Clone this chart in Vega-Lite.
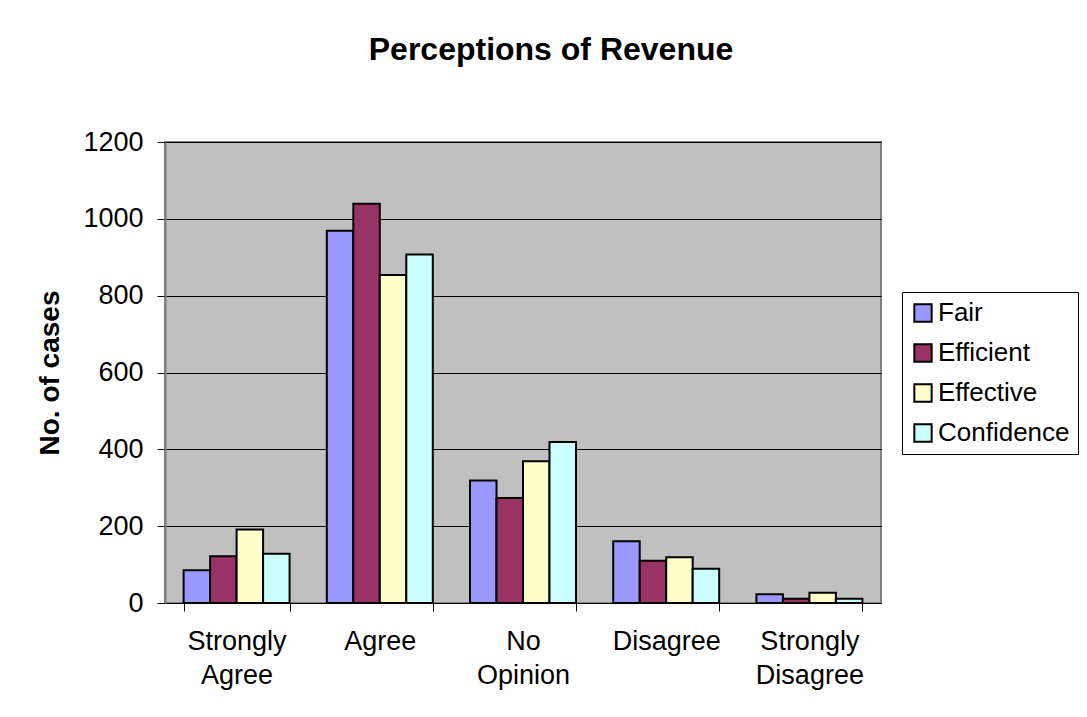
{
  "$schema": "https://vega.github.io/schema/vega-lite/v6.json",
  "width": 716,
  "height": 461,
  "autosize": {"type": "none"},
  "padding": {"left": 165, "top": 142, "right": 206, "bottom": 114},
  "background": "white",
  "title": {
    "text": "Perceptions of Revenue",
    "font": "Liberation Sans",
    "fontSize": 32,
    "fontWeight": "bold",
    "color": "black",
    "anchor": "middle",
    "baseline": "alphabetic",
    "offset": 36,
    "dx": 28
  },
  "data": {
    "values": [
      {"response": "Strongly Agree", "measure": "Fair", "cases": 85},
      {"response": "Strongly Agree", "measure": "Efficient", "cases": 122},
      {"response": "Strongly Agree", "measure": "Effective", "cases": 191},
      {"response": "Strongly Agree", "measure": "Confidence", "cases": 128},
      {"response": "Agree", "measure": "Fair", "cases": 969},
      {"response": "Agree", "measure": "Efficient", "cases": 1039},
      {"response": "Agree", "measure": "Effective", "cases": 854},
      {"response": "Agree", "measure": "Confidence", "cases": 907},
      {"response": "No Opinion", "measure": "Fair", "cases": 319},
      {"response": "No Opinion", "measure": "Efficient", "cases": 273},
      {"response": "No Opinion", "measure": "Effective", "cases": 369},
      {"response": "No Opinion", "measure": "Confidence", "cases": 419},
      {"response": "Disagree", "measure": "Fair", "cases": 161},
      {"response": "Disagree", "measure": "Efficient", "cases": 110},
      {"response": "Disagree", "measure": "Effective", "cases": 119},
      {"response": "Disagree", "measure": "Confidence", "cases": 89},
      {"response": "Strongly Disagree", "measure": "Fair", "cases": 23},
      {"response": "Strongly Disagree", "measure": "Efficient", "cases": 11},
      {"response": "Strongly Disagree", "measure": "Effective", "cases": 27},
      {"response": "Strongly Disagree", "measure": "Confidence", "cases": 11}
    ]
  },
  "mark": {"type": "bar", "stroke": "black", "strokeWidth": 2},
  "encoding": {
    "x": {
      "field": "response",
      "type": "nominal",
      "sort": ["Strongly Agree", "Agree", "No Opinion", "Disagree", "Strongly Disagree"],
      "scale": {"paddingInner": 0.26, "paddingOuter": 0.13},
      "axis": {
        "title": null,
        "labelAngle": 0,
        "labelExpr": "split(datum.label, ' ')",
        "labelFont": "Liberation Sans",
        "labelFontSize": 27,
        "labelColor": "black",
        "labelBaseline": "top",
        "labelLineHeight": 34,
        "labelPadding": 17,
        "tickBand": "extent",
        "tickSize": 8,
        "tickColor": "black",
        "tickWidth": 1,
        "domainColor": "black",
        "domainWidth": 1,
        "grid": false
      }
    },
    "xOffset": {
      "field": "measure",
      "type": "nominal",
      "sort": ["Fair", "Efficient", "Effective", "Confidence"],
      "scale": {"paddingInner": 0, "paddingOuter": 0}
    },
    "y": {
      "field": "cases",
      "type": "quantitative",
      "scale": {"domain": [0, 1200], "nice": false},
      "axis": {
        "title": "No. of cases",
        "titleFont": "Liberation Sans",
        "titleFontSize": 28,
        "titleFontWeight": "bold",
        "titleColor": "black",
        "titlePadding": 18,
        "values": [0, 200, 400, 600, 800, 1000, 1200],
        "format": "d",
        "labelFont": "Liberation Sans",
        "labelFontSize": 27,
        "labelColor": "black",
        "labelPadding": 14,
        "tickSize": 8,
        "tickColor": "black",
        "tickWidth": 1,
        "domainColor": "#808080",
        "domainWidth": 2,
        "grid": true,
        "gridColor": "black",
        "gridWidth": 1
      }
    },
    "color": {
      "field": "measure",
      "type": "nominal",
      "sort": ["Fair", "Efficient", "Effective", "Confidence"],
      "scale": {
        "domain": ["Fair", "Efficient", "Effective", "Confidence"],
        "range": ["#9999FF", "#993366", "#FFFFCC", "#CCFFFF"]
      },
      "legend": {
        "title": null,
        "orient": "none",
        "legendX": 737,
        "legendY": 150,
        "padding": 8,
        "strokeColor": "black",
        "fillColor": "white",
        "symbolType": "square",
        "symbolSize": 300,
        "symbolStrokeColor": "black",
        "symbolStrokeWidth": 2,
        "symbolOpacity": 1,
        "labelFont": "Liberation Sans",
        "labelFontSize": 26,
        "labelColor": "black",
        "labelOffset": 2,
        "rowPadding": 14,
        "labelLimit": 300
      }
    }
  },
  "config": {
    "view": {"fill": "#C0C0C0", "stroke": "#808080", "strokeWidth": 2}
  }
}
